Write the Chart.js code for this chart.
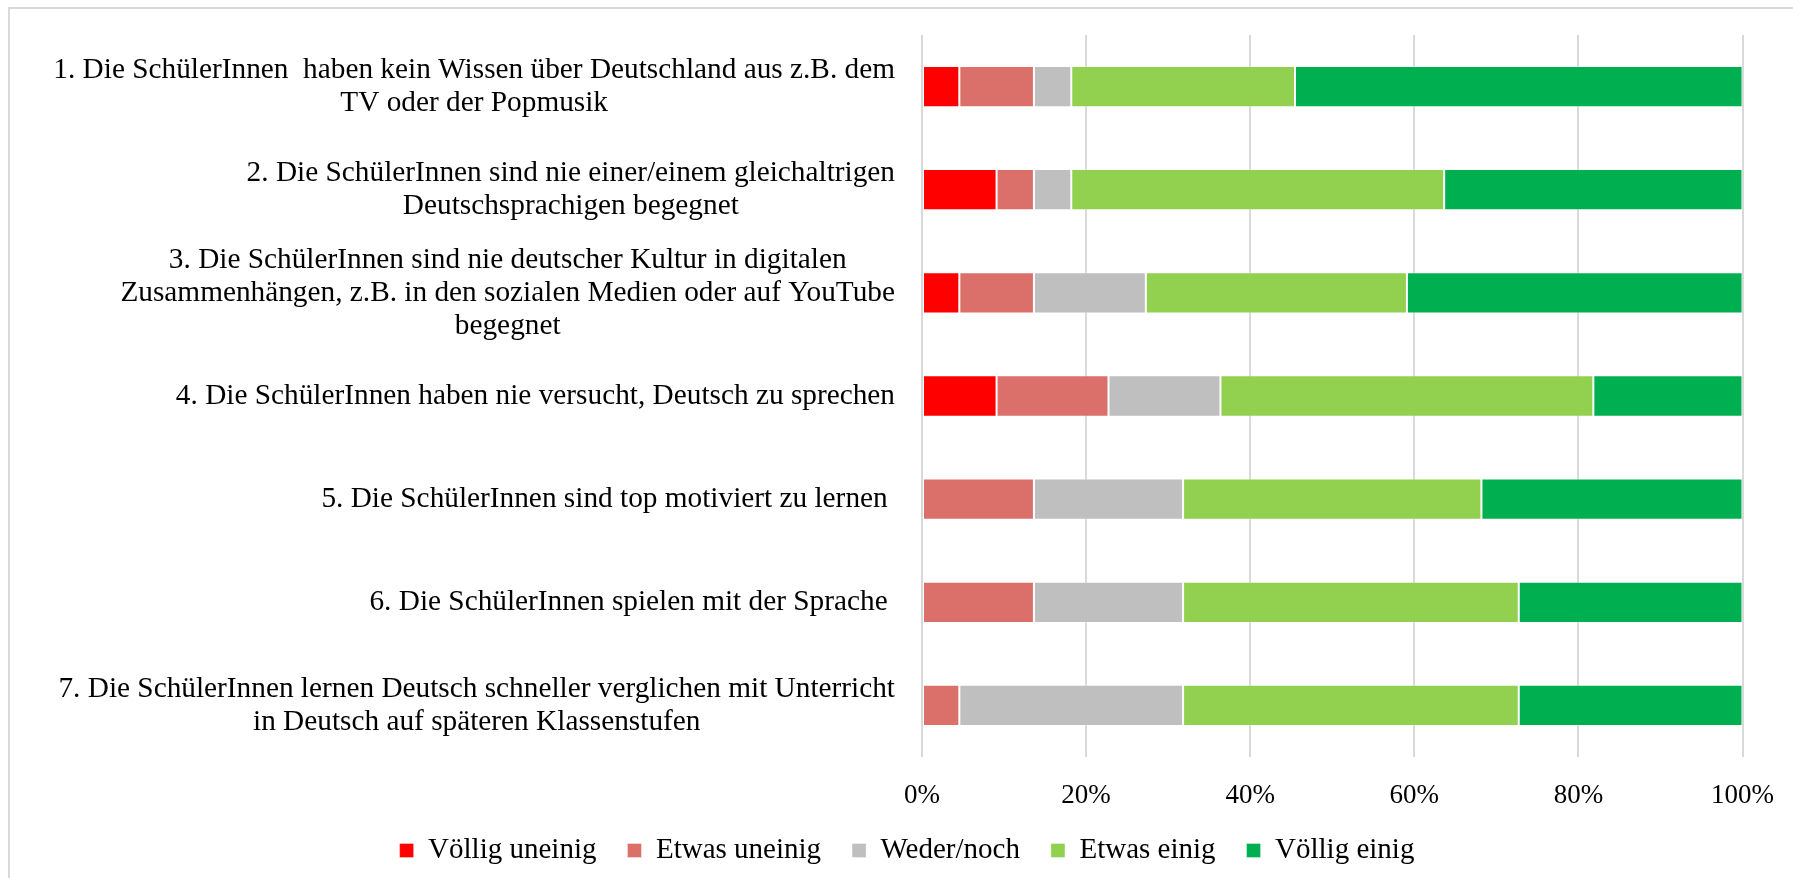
<!DOCTYPE html>
<html>
<head>
<meta charset="utf-8">
<script src="https://cdn.jsdelivr.net/npm/chart.js@4.4.1/dist/chart.umd.min.js"></script>
<style>
  html, body { margin: 0; padding: 0; background: #ffffff; overflow: hidden; }
  #frame { position: absolute; left: 8px; top: 7px; width: 1900px; height: 1000px; border: 2px solid #d9d9d9; box-sizing: border-box; }
  #wrap { position: absolute; left: 0; top: 0; width: 1793px; height: 878px; }
</style>
</head>
<body>
<div id="frame"></div>
<div id="wrap"><canvas id="c" width="1793" height="878"></canvas></div>
<script>
// ---- data ----
const categories = [
  ["1. Die SchülerInnen  haben kein Wissen über Deutschland aus z.B. dem", "TV oder der Popmusik"],
  ["2. Die SchülerInnen sind nie einer/einem gleichaltrigen", "Deutschsprachigen begegnet"],
  ["3. Die SchülerInnen sind nie deutscher Kultur in digitalen", "Zusammenhängen, z.B. in den sozialen Medien oder auf YouTube", "begegnet"],
  ["4. Die SchülerInnen haben nie versucht, Deutsch zu sprechen"],
  ["5. Die SchülerInnen sind top motiviert zu lernen "],
  ["6. Die SchülerInnen spielen mit der Sprache "],
  ["7. Die SchülerInnen lernen Deutsch schneller verglichen mit Unterricht", "in Deutsch auf späteren Klassenstufen"]
];
const seriesNames = ["Völlig uneinig", "Etwas uneinig", "Weder/noch", "Etwas einig", "Völlig einig"];
const voelligUneinig = [4.55, 9.09, 4.55, 9.09, 0, 0, 0];
const etwasUneinig   = [9.09, 4.55, 9.09, 13.64, 13.64, 13.64, 4.55];
const wederNoch      = [4.55, 4.55, 13.64, 13.64, 18.18, 18.18, 27.27];
const etwasEinig     = [27.27, 45.45, 31.82, 45.45, 36.36, 40.91, 40.91];
const voelligEinig   = [54.55, 36.36, 40.91, 18.18, 31.82, 27.27, 27.27];
const xTicks = [0, 20, 40, 60, 80, 100];

const colors = ["#FF0000", "#DA7069", "#BFBFBF", "#92D050", "#00B050"];
const seriesValues = [voelligUneinig, etwasUneinig, wederNoch, etwasEinig, voelligEinig];

const FONT = '"Liberation Serif", "Times New Roman", serif';

const yLabelPlugin = {
  id: 'yLabelPlugin',
  afterDraw(chart) {
    const ys = chart.scales.y;
    const ctx = chart.ctx;
    ctx.save();
    ctx.font = '29.3px ' + FONT;
    ctx.fillStyle = '#000000';
    ctx.textAlign = 'center';
    ctx.textBaseline = 'middle';
    const lh = 33;
    const right = ys.right - 27;
    categories.forEach((lines, i) => {
      const maxW = Math.max(...lines.map(l => ctx.measureText(l).width));
      const cx = right - maxW / 2;
      const yc = ys.getPixelForValue(i);
      lines.forEach((l, j) => {
        ctx.fillText(l, cx, yc + (j - (lines.length - 1) / 2) * lh);
      });
    });
    ctx.restore();
  }
};

new Chart(document.getElementById('c'), {
  type: 'bar',
  data: {
    labels: categories,
    datasets: seriesNames.map((n, k) => ({
      label: n,
      data: seriesValues[k],
      backgroundColor: colors[k],
      borderColor: 'rgba(255,255,255,0.35)',
      borderWidth: 1,
      borderSkipped: false,
      barPercentage: 0.5,
      categoryPercentage: 0.8
    }))
  },
  options: {
    indexAxis: 'y',
    responsive: false,
    animation: false,
    layout: { padding: { left: 21, right: 0, top: 35, bottom: 3 } },
    plugins: {
      legend: {
        position: 'bottom',
        labels: {
          boxWidth: 14, boxHeight: 14, padding: 31,
          color: '#000000',
          font: { family: FONT, size: 29 }
        }
      },
      tooltip: { enabled: false }
    },
    scales: {
      x: {
        stacked: true,
        min: 0, max: 100,
        afterBuildTicks(s) { s.ticks = xTicks.map(v => ({ value: v })); },
        afterFit(s) { s.height = 48; },
        grid: { color: '#d9d9d9', lineWidth: 2, drawTicks: false },
        border: { display: false },
        ticks: {
          padding: 19,
          color: '#000000',
          font: { family: FONT, size: 27, lineHeight: 1.44 },
          callback: v => v + '%'
        }
      },
      y: {
        stacked: true,
        afterFit(s) { s.width = 901; },
        grid: { display: false },
        border: { display: false },
        ticks: { display: false }
      }
    }
  },
  plugins: [yLabelPlugin]
});
</script>
</body>
</html>
